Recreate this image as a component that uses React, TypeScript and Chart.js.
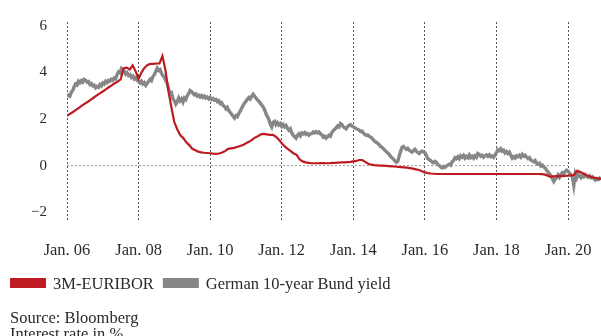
import { useEffect, useRef } from "react";
import { Chart, registerables } from "chart.js";

Chart.register(...registerables);

// Series labels and colours
const seriesNames = ["3M-EURIBOR", "German 10-year Bund yield"];
const seriesColors = ["#bd1b21", "#878787"];
const zeroLineColor = "#9a9a9a";
const gridColor = "#555555";
const textColor = "#2a2a2a";

// Axis ticks
const xTickYears = [2006, 2008, 2010, 2012, 2014, 2016, 2018, 2020];
const yTickValues = [-2, 0, 2, 4, 6];
const xMin = 2006;
const xMax = 2020.92;
const yMin = -2.42;
const yMax = 6.16;

const sourceLines = ["Source: Bloomberg", "Interest rate in %"];

// 3M-EURIBOR in %, monthly from Jan. 2006
const euriborStart = 2006;
const euriborStep = 1 / 12;
const euriborValues = [
  2.13, 2.22, 2.3, 2.39, 2.48, 2.57, 2.66, 2.74, 2.83, 2.92, 3.01, 3.1,
  3.18, 3.27, 3.36, 3.44, 3.53, 3.6, 3.7, 4.18, 4.2, 4.12, 4.3, 4.05,
  3.72, 4.0, 4.2, 4.32, 4.36, 4.36, 4.38, 4.38, 4.7, 4.1, 3.2, 2.5,
  1.85, 1.55, 1.3, 1.18, 1.0, 0.88, 0.72, 0.66, 0.6, 0.57, 0.55, 0.54,
  0.53, 0.51, 0.5, 0.52, 0.56, 0.62, 0.72, 0.74, 0.76, 0.8, 0.84, 0.88,
  0.96, 1.02, 1.1, 1.2, 1.26, 1.34, 1.36, 1.34, 1.32, 1.32, 1.24, 1.12,
  0.96, 0.82, 0.72, 0.62, 0.52, 0.46, 0.26, 0.18, 0.14, 0.12, 0.1, 0.1,
  0.1, 0.11, 0.11, 0.1, 0.1, 0.12, 0.12, 0.13, 0.14, 0.14, 0.15, 0.16,
  0.18, 0.2, 0.24, 0.24, 0.16, 0.08, 0.04, 0.02, 0.01, 0.0, 0.0, -0.01,
  -0.02, -0.03, -0.04, -0.06, -0.07, -0.08, -0.09, -0.11, -0.13, -0.16, -0.19, -0.24,
  -0.29, -0.32, -0.34, -0.35, -0.36, -0.36, -0.36, -0.36, -0.36, -0.36, -0.36, -0.36,
  -0.36, -0.36, -0.36, -0.36, -0.36, -0.36, -0.36, -0.36, -0.36, -0.36, -0.36, -0.36,
  -0.36, -0.36, -0.36, -0.36, -0.36, -0.36, -0.36, -0.36, -0.36, -0.36, -0.36, -0.36,
  -0.36, -0.36, -0.36, -0.37, -0.38, -0.42, -0.48, -0.46, -0.45, -0.45, -0.45, -0.44,
  -0.43, -0.42, -0.4, -0.22, -0.27, -0.33, -0.4, -0.46, -0.5, -0.52, -0.55, -0.58,
];

// German 10-year Bund yield in %, sampled every 0.04 years from Jan. 2006
const bundStart = 2006;
const bundStep = 0.04;
const bundValues = [
  2.96, 3.02, 2.98, 3.15, 3.22, 3.38, 3.5, 3.46, 3.62, 3.55, 3.64, 3.58, 3.7, 3.66, 3.58, 3.6, 3.48, 3.52, 3.42, 3.45, 3.34, 3.4, 3.36, 3.48, 3.42,
  3.55, 3.5, 3.62, 3.56, 3.66, 3.62, 3.7, 3.66, 3.76, 3.72, 3.9, 4.02, 3.98, 4.16, 4.1, 4.05, 3.92, 3.98, 3.86, 3.9, 3.78, 3.84, 3.72, 3.78, 3.66,
  3.62, 3.55, 3.62, 3.5, 3.56, 3.44, 3.52, 3.62, 3.7, 3.64, 3.82, 3.9, 4.04, 4.18, 4.08, 4.12, 3.96, 3.86, 3.8, 3.64, 3.52, 3.28, 3.08, 3.12, 2.86,
  2.78, 2.64, 2.74, 2.9, 2.78, 2.86, 2.72, 2.9, 2.84, 3.0, 3.1, 3.22, 3.18, 3.1, 3.04, 3.08, 2.98, 3.02, 2.94, 3.0, 2.92, 2.98, 2.9, 2.94, 2.86,
  2.92, 2.84, 2.88, 2.8, 2.84, 2.74, 2.78, 2.66, 2.7, 2.58, 2.54, 2.44, 2.5, 2.36, 2.28, 2.2, 2.12, 2.04, 2.14, 2.1, 2.24, 2.34, 2.46, 2.58, 2.68,
  2.76, 2.84, 2.92, 2.86, 2.98, 3.06, 2.98, 2.9, 2.82, 2.76, 2.68, 2.6, 2.52, 2.4, 2.22, 2.1, 1.98, 1.78, 1.66, 1.86, 1.9, 1.76, 1.84, 1.74, 1.8,
  1.68, 1.76, 1.66, 1.72, 1.6, 1.52, 1.58, 1.4, 1.3, 1.24, 1.18, 1.3, 1.36, 1.28, 1.4, 1.36, 1.42, 1.34, 1.38, 1.3, 1.36, 1.38, 1.44, 1.4, 1.46,
  1.4, 1.44, 1.36, 1.32, 1.22, 1.26, 1.18, 1.24, 1.3, 1.26, 1.42, 1.5, 1.56, 1.62, 1.7, 1.66, 1.8, 1.76, 1.66, 1.62, 1.58, 1.68, 1.72, 1.76, 1.7,
  1.66, 1.62, 1.58, 1.56, 1.52, 1.46, 1.48, 1.4, 1.34, 1.3, 1.32, 1.26, 1.22, 1.18, 1.1, 1.04, 1.0, 0.96, 0.9, 0.82, 0.78, 0.72, 0.66, 0.6, 0.54,
  0.48, 0.4, 0.34, 0.28, 0.2, 0.14, 0.18, 0.4, 0.6, 0.78, 0.82, 0.76, 0.7, 0.74, 0.66, 0.62, 0.58, 0.64, 0.7, 0.62, 0.56, 0.52, 0.58, 0.62, 0.58,
  0.55, 0.44, 0.3, 0.26, 0.22, 0.16, 0.12, 0.18, 0.14, 0.04, 0.0, -0.06, -0.1, -0.04, -0.08, -0.02, 0.02, 0.06, 0.02, 0.16, 0.22, 0.34, 0.3, 0.38, 0.3,
  0.42, 0.36, 0.44, 0.32, 0.4, 0.34, 0.46, 0.34, 0.4, 0.32, 0.42, 0.36, 0.52, 0.48, 0.4, 0.44, 0.36, 0.42, 0.46, 0.4, 0.46, 0.38, 0.42, 0.36, 0.46,
  0.56, 0.68, 0.64, 0.72, 0.62, 0.66, 0.54, 0.6, 0.52, 0.58, 0.44, 0.32, 0.38, 0.32, 0.42, 0.38, 0.44, 0.36, 0.48, 0.4, 0.44, 0.36, 0.3, 0.34, 0.24,
  0.2, 0.16, 0.22, 0.1, 0.06, 0.1, -0.02, 0.02, -0.06, -0.1, -0.2, -0.28, -0.36, -0.42, -0.56, -0.68, -0.58, -0.52, -0.4, -0.5, -0.38, -0.3, -0.34, -0.26, -0.2,
  -0.24, -0.32, -0.4, -0.48, -0.84, -0.36, -0.52, -0.34, -0.46, -0.52, -0.42, -0.48, -0.4, -0.46, -0.5, -0.44, -0.52, -0.48, -0.56, -0.62, -0.56, -0.6, -0.54, -0.6,
];

// Dotted zero reference line
const zeroLineYears = [2006, 2020];
const zeroLineValue = 0;

const FONT = "'Liberation Serif', 'Times New Roman', serif";

const toPoints = (start: number, step: number, values: number[]) =>
  values.map((y, i) => ({ x: start + i * step, y }));

// Keep the plot area fixed: no extra room reserved for edge tick labels
const clearEdgePadding = (scale: any) => {
  scale.paddingLeft = 0;
  scale.paddingRight = 0;
  scale.paddingTop = 0;
  scale.paddingBottom = 0;
};

// Legend swatches and the source note below the axis
const footerPlugin = {
  id: "footerNote",
  afterDraw(chart: any) {
    const { ctx } = chart;
    ctx.save();
    ctx.font = `16.5px ${FONT}`;
    ctx.textBaseline = "alphabetic";
    ctx.textAlign = "left";
    let x = 10;
    chart.data.datasets.forEach((ds: any) => {
      if (!ds.label) return;
      ctx.fillStyle = ds.borderColor;
      ctx.fillRect(x, 278, 36, 10);
      x += 36 + 7;
      ctx.fillStyle = textColor;
      ctx.fillText(ds.label, x, 289);
      x += ctx.measureText(ds.label).width + 9;
    });
    ctx.fillStyle = textColor;
    ctx.font = `16.5px ${FONT}`;
    sourceLines.forEach((line, i) => ctx.fillText(line, 10, 322.5 + i * 16.5));
    ctx.restore();
  },
};

export default function App() {
  const canvasRef = useRef<HTMLCanvasElement | null>(null);

  useEffect(() => {
    if (!canvasRef.current) return;
    const chart = new Chart(canvasRef.current, {
      type: "line",
      data: {
        datasets: [
          {
            label: seriesNames[0],
            data: toPoints(euriborStart, euriborStep, euriborValues),
            borderColor: seriesColors[0],
            backgroundColor: seriesColors[0],
            borderWidth: 2.2,
            pointRadius: 0,
            tension: 0,
          },
          {
            label: seriesNames[1],
            data: toPoints(bundStart, bundStep, bundValues),
            borderColor: seriesColors[1],
            backgroundColor: seriesColors[1],
            borderWidth: 3.4,
            pointRadius: 0,
            tension: 0,
          },
          {
            label: "",
            data: zeroLineYears.map((x) => ({ x, y: zeroLineValue })),
            borderColor: zeroLineColor,
            borderWidth: 1,
            borderDash: [2, 2],
            pointRadius: 0,
          },
        ],
      },
      options: {
        responsive: false,
        animation: false,
        devicePixelRatio: 1,
        layout: { padding: { top: 22, right: 0, bottom: 74, left: 0 } },
        plugins: {
          legend: { display: false },
          tooltip: { enabled: false },
        },
        scales: {
          x: {
            type: "linear",
            min: xMin,
            max: xMax,
            afterFit: (scale: any) => {
              scale.height = 40;
              clearEdgePadding(scale);
            },
            afterBuildTicks: (scale: any) => {
              scale.ticks = xTickYears.map((value) => ({ value }));
            },
            grid: {
              display: true,
              drawTicks: false,
              color: gridColor,
              lineWidth: 1,
            },
            border: { display: false, dash: [2, 2] },
            ticks: {
              padding: 19,
              color: textColor,
              font: { family: FONT, size: 16.5 },
              maxRotation: 0,
              autoSkip: false,
              callback: (v: any) => `Jan. ${String(Math.round(Number(v)) % 100).padStart(2, "0")}`,
            },
          },
          y: {
            type: "linear",
            min: yMin,
            max: yMax,
            afterFit: (scale: any) => {
              scale.width = 67;
              clearEdgePadding(scale);
            },
            afterBuildTicks: (scale: any) => {
              scale.ticks = yTickValues.map((value) => ({ value }));
            },
            grid: { display: false, drawTicks: false },
            border: { display: false },
            ticks: {
              padding: 20,
              color: textColor,
              font: { family: FONT, size: 15 },
              callback: (v: any) => (Number(v) < 0 ? `\u2212${Math.abs(Number(v))}` : `${v}`),
            },
          },
        },
      },
      plugins: [footerPlugin],
    });
    return () => chart.destroy();
  }, []);

  return (
    <div style={{ position: "absolute", left: 0, top: 0, width: 601, height: 336, background: "#fff" }}>
      <canvas ref={canvasRef} width={601} height={336} style={{ display: "block" }} />
    </div>
  );
}
